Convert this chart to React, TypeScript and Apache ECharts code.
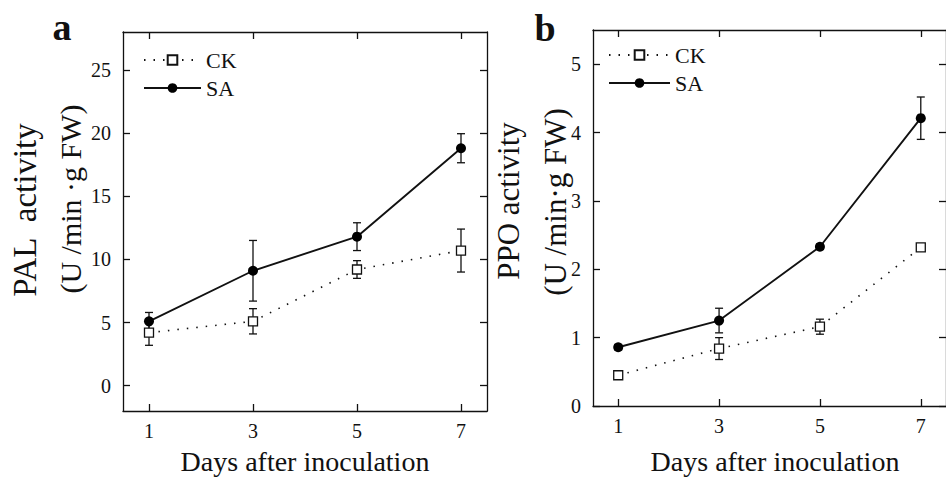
import React, { useEffect, useRef } from "react";
import * as echarts from "echarts";

const days = [1, 3, 5, 7];
const dayTicks = [1, 3, 5, 7];

const palCK = [4.2, 5.1, 9.2, 10.7];
const palCKErr = [1.0, 1.0, 0.7, 1.7];
const palSA = [5.1, 9.1, 11.8, 18.8];
const palSAErr = [0.7, 2.4, 1.1, 1.15];
const palTicks = [0, 5, 10, 15, 20, 25];

const ppoCK = [0.45, 0.84, 1.16, 2.32];
const ppoCKErr = [0.05, 0.16, 0.11, 0.04];
const ppoSA = [0.86, 1.25, 2.33, 4.21];
const ppoSAErr = [0.04, 0.18, 0.04, 0.31];
const ppoTicks = [0, 1, 2, 3, 4, 5];

const INK = "#111";
const SERIF = "Liberation Serif";

function errData(vals: number[], errs: number[]) {
  return days.map((d, i) => [d, vals[i] - errs[i], vals[i] + errs[i]]);
}

function errRender(params: any, api: any) {
  const x = api.value(0);
  const lo = api.coord([x, api.value(1)]);
  const hi = api.coord([x, api.value(2)]);
  const w = 4;
  const style = { stroke: INK, lineWidth: 1.3 };
  return {
    type: "group",
    children: [
      { type: "line", shape: { x1: lo[0], y1: lo[1], x2: hi[0], y2: hi[1] }, style },
      { type: "line", shape: { x1: lo[0] - w, y1: lo[1], x2: lo[0] + w, y2: lo[1] }, style },
      { type: "line", shape: { x1: hi[0] - w, y1: hi[1], x2: hi[0] + w, y2: hi[1] }, style },
    ],
  };
}

export default function App() {
  const ref = useRef<HTMLDivElement>(null);
  useEffect(() => {
    if (!ref.current) return;
    const chart = echarts.init(ref.current, undefined, { renderer: "svg" });

    const axisLine = { show: true, lineStyle: { color: INK, width: 1.3 } };
    const tickStyle = { color: INK, width: 1.3 };
    const richLabel = {
      formatter: "{s|{value}}",
      rich: { s: { color: INK, fontFamily: SERIF, fontSize: 20 } },
      color: INK,
      fontFamily: SERIF,
      fontSize: 20,
    };

    const makeX = (gridIndex: number, position: "bottom" | "top") => ({
      type: "value",
      gridIndex,
      position,
      min: 0.5,
      max: 7.5,
      axisLine: { ...axisLine, onZero: false },
      axisTick: { show: true, inside: true, length: 7, lineStyle: tickStyle, customValues: dayTicks },
      axisLabel:
        position === "bottom"
          ? { show: true, margin: 10, ...richLabel, customValues: dayTicks }
          : { show: false },
      splitLine: { show: false },
    });

    const makeY = (
      gridIndex: number,
      position: "left" | "right",
      min: number,
      max: number,
      ticks: number[]
    ) => ({
      type: "value",
      gridIndex,
      position,
      min,
      max,
      axisLine: { ...axisLine, onZero: false },
      axisTick: { show: true, inside: true, length: 7, lineStyle: tickStyle, customValues: ticks },
      axisLabel:
        position === "left"
          ? { show: true, margin: 12, ...richLabel, customValues: ticks }
          : { show: false },
      splitLine: { show: false },
    });

    const ckLine = (name: string, xi: number, yi: number, vals: number[]) => ({
      name,
      type: "line",
      xAxisIndex: xi,
      yAxisIndex: yi,
      data: days.map((d, i) => [d, vals[i]]),
      symbol: "rect",
      symbolSize: 9,
      itemStyle: { color: "#fff", borderColor: INK, borderWidth: 1.3 },
      lineStyle: { color: INK, width: 1.6, type: [1.5, 8] },
      z: 4,
    });
    const saLine = (name: string, xi: number, yi: number, vals: number[]) => ({
      name,
      type: "line",
      xAxisIndex: xi,
      yAxisIndex: yi,
      data: days.map((d, i) => [d, vals[i]]),
      symbol: "circle",
      symbolSize: 10,
      itemStyle: { color: "#000", borderColor: "#000", borderWidth: 0 },
      lineStyle: { color: INK, width: 1.9, type: "solid" },
      z: 5,
    });
    const errSeries = (name: string, xi: number, yi: number, vals: number[], errs: number[]) => ({
      name,
      type: "custom",
      xAxisIndex: xi,
      yAxisIndex: yi,
      data: errData(vals, errs),
      renderItem: errRender,
      z: 2,
      encode: { x: 0, y: [1, 2] },
    });

    const legendText = {
      color: INK,
      fontFamily: SERIF,
      fontSize: 22,
      lineHeight: 22,
      rich: { s: { color: INK, fontFamily: SERIF, fontSize: 22, lineHeight: 22 } },
    };
    const legendFmt = (name: string) => `{s|${name}}`;

    chart.setOption({
      animation: false,
      backgroundColor: "#fff",
      textStyle: { fontFamily: SERIF, color: INK },
      grid: [
        { left: 123, top: 32, width: 364, height: 379 },
        { left: 593, top: 30, width: 365, height: 376 },
      ],
      xAxis: [makeX(0, "bottom"), makeX(0, "top"), makeX(1, "bottom"), makeX(1, "top")],
      yAxis: [
        makeY(0, "left", -2, 28, palTicks),
        makeY(0, "right", -2, 28, palTicks),
        makeY(1, "left", 0, 5.5, ppoTicks),
        makeY(1, "right", 0, 5.5, ppoTicks),
      ],
      legend: [
        {
          data: ["CK", "SA"],
          orient: "vertical",
          left: 143,
          top: 49,
          padding: 0,
          itemWidth: 57,
          itemHeight: 12,
          itemGap: 6,
          textStyle: legendText,
          formatter: legendFmt,
          selectedMode: false,
        },
        {
          data: ["CK", "SA"],
          orient: "vertical",
          left: 608,
          top: 44,
          padding: 0,
          itemWidth: 61,
          itemHeight: 12,
          itemGap: 6,
          textStyle: legendText,
          formatter: legendFmt,
          selectedMode: false,
        },
      ],
      graphic: [
        { type: "text", x: 62, y: 27, style: { text: "a", font: `bold 38px ${SERIF}`, fill: INK, textAlign: "center", textVerticalAlign: "middle" } },
        { type: "text", x: 545, y: 28, style: { text: "b", font: `bold 38px ${SERIF}`, fill: INK, textAlign: "center", textVerticalAlign: "middle" } },
        { type: "text", x: 25, y: 210, rotation: Math.PI / 2, style: { text: "PAL  activity", font: `33px ${SERIF}`, fill: INK, textAlign: "center", textVerticalAlign: "middle" } },
        { type: "text", x: 70, y: 199, rotation: Math.PI / 2, style: { text: "(U /min \u00b7g FW)", font: `30px ${SERIF}`, fill: INK, textAlign: "center", textVerticalAlign: "middle" } },
        { type: "text", x: 508, y: 201, rotation: Math.PI / 2, style: { text: "PPO activity", font: `31px ${SERIF}`, fill: INK, textAlign: "center", textVerticalAlign: "middle" } },
        { type: "text", x: 555, y: 202, rotation: Math.PI / 2, style: { text: "(U /min\u00b7g FW)", font: `31px ${SERIF}`, fill: INK, textAlign: "center", textVerticalAlign: "middle" } },
        { type: "text", x: 305, y: 461, style: { text: "Days after inoculation", font: `28px ${SERIF}`, fill: INK, textAlign: "center", textVerticalAlign: "middle" } },
        { type: "text", x: 775, y: 461, style: { text: "Days after inoculation", font: `28px ${SERIF}`, fill: INK, textAlign: "center", textVerticalAlign: "middle" } },
      ],
      series: [
        errSeries("CK err a", 0, 0, palCK, palCKErr),
        errSeries("SA err a", 0, 0, palSA, palSAErr),
        ckLine("CK", 0, 0, palCK),
        saLine("SA", 0, 0, palSA),
        errSeries("CK err b", 2, 2, ppoCK, ppoCKErr),
        errSeries("SA err b", 2, 2, ppoSA, ppoSAErr),
        ckLine("CK", 2, 2, ppoCK),
        saLine("SA", 2, 2, ppoSA),
      ],
    });
    return () => chart.dispose();
  }, []);

  return (
    <div
      ref={ref}
      style={{ position: "absolute", left: 0, top: 0, width: 946, height: 477, overflow: "hidden" }}
    />
  );
}
